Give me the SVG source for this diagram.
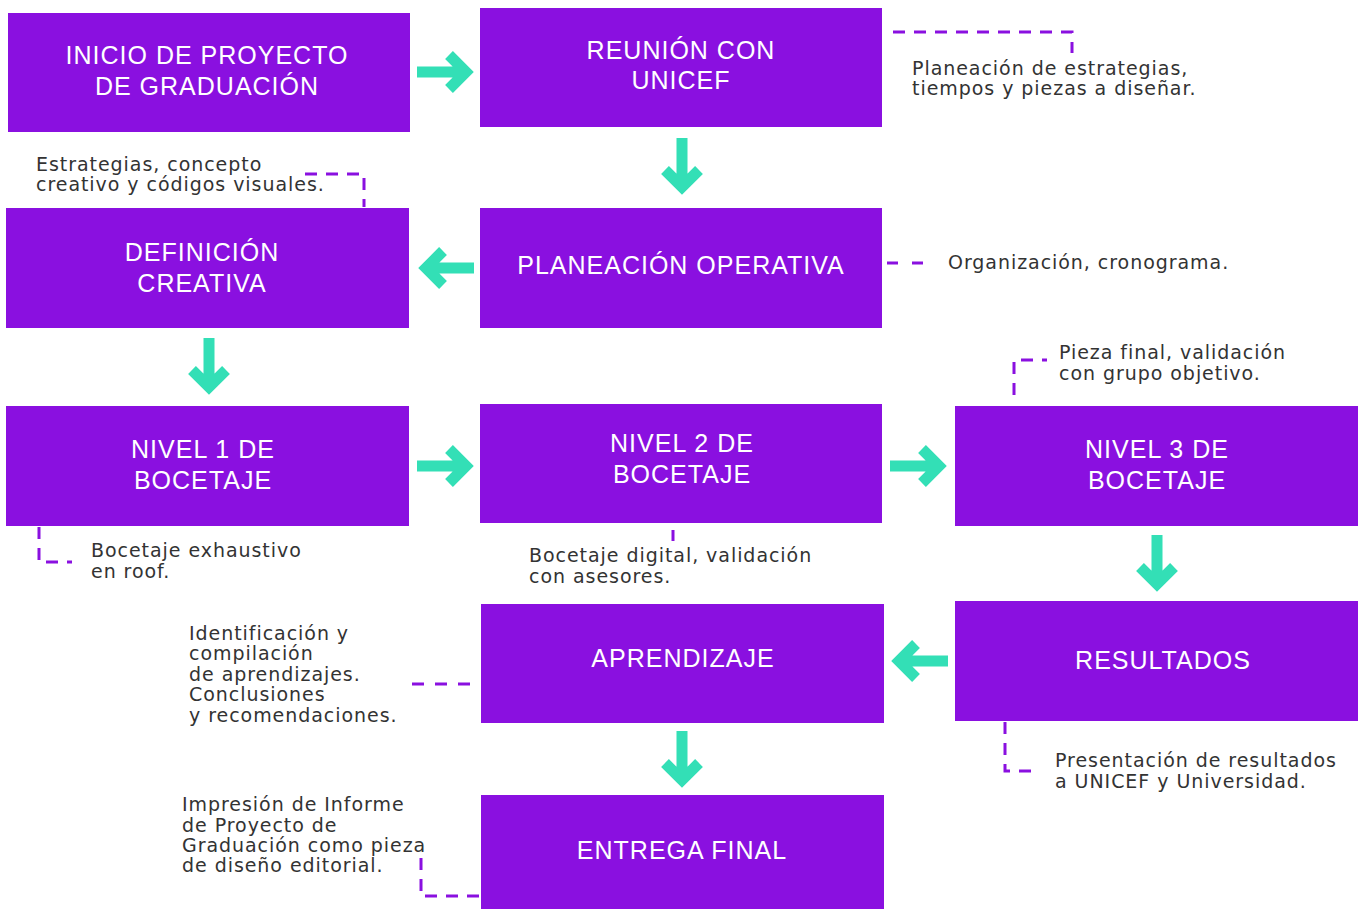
<svg xmlns="http://www.w3.org/2000/svg" width="1363" height="909" viewBox="0 0 1363 909">
<style>
.box{fill:#8a10e0}
.bt{fill:#ffffff;font-family:"Liberation Sans",Arial,sans-serif;font-size:25px;letter-spacing:1px;text-anchor:middle}
.at{fill:#333333;font-family:"DejaVu Sans","Liberation Sans",sans-serif;font-size:19px;letter-spacing:0.95px}
.arr{fill:none;stroke:#33dfb6;stroke-width:11;stroke-linejoin:miter;stroke-miterlimit:10}
.dash{fill:none;stroke:#8a10e0;stroke-width:3;stroke-dasharray:12 9}
</style>
<rect width="1363" height="909" fill="#ffffff"/>
<g id="n1"><rect class="box" x="8" y="13" width="402" height="119"/><text class="bt" x="207" y="64">INICIO DE PROYECTO</text><text class="bt" x="207" y="95">DE GRADUACIÓN</text></g>
<g id="n2"><rect class="box" x="480" y="8" width="402" height="119"/><text class="bt" x="681" y="59">REUNIÓN CON</text><text class="bt" x="681" y="89">UNICEF</text></g>
<g id="n3"><rect class="box" x="6" y="208" width="403" height="120"/><text class="bt" x="202" y="261">DEFINICIÓN</text><text class="bt" x="202" y="292">CREATIVA</text></g>
<g id="n4"><rect class="box" x="480" y="208" width="402" height="120"/><text class="bt" x="681" y="274">PLANEACIÓN OPERATIVA</text></g>
<g id="n5"><rect class="box" x="6" y="406" width="403" height="120"/><text class="bt" x="203" y="458">NIVEL 1 DE</text><text class="bt" x="203" y="489">BOCETAJE</text></g>
<g id="n6"><rect class="box" x="480" y="404" width="402" height="119"/><text class="bt" x="682" y="452">NIVEL 2 DE</text><text class="bt" x="682" y="483">BOCETAJE</text></g>
<g id="n7"><rect class="box" x="955" y="406" width="403" height="120"/><text class="bt" x="1157" y="458">NIVEL 3 DE</text><text class="bt" x="1157" y="489">BOCETAJE</text></g>
<g id="n8"><rect class="box" x="955" y="601" width="403" height="120"/><text class="bt" x="1163" y="669">RESULTADOS</text></g>
<g id="n9"><rect class="box" x="481" y="604" width="403" height="119"/><text class="bt" x="683" y="667">APRENDIZAJE</text></g>
<g id="n10"><rect class="box" x="481" y="795" width="403" height="114"/><text class="bt" x="682" y="859">ENTREGA FINAL</text></g>
<g id="notes">
<text class="at" x="912" y="75">Planeación de estrategias,</text>
<text class="at" x="912" y="95">tiempos y piezas a diseñar.</text>
<text class="at" x="36" y="171">Estrategias, concepto</text>
<text class="at" x="36" y="191">creativo y códigos visuales.</text>
<text class="at" x="948" y="269">Organización, cronograma.</text>
<text class="at" x="1059" y="359">Pieza final, validación</text>
<text class="at" x="1059" y="380">con grupo objetivo.</text>
<text class="at" x="91" y="557">Bocetaje exhaustivo</text>
<text class="at" x="91" y="578">en roof.</text>
<text class="at" x="529" y="562">Bocetaje digital, validación</text>
<text class="at" x="529" y="583">con asesores.</text>
<text class="at" x="189" y="640">Identificación y</text>
<text class="at" x="189" y="660">compilación</text>
<text class="at" x="189" y="681">de aprendizajes.</text>
<text class="at" x="189" y="701">Conclusiones</text>
<text class="at" x="189" y="722">y recomendaciones.</text>
<text class="at" x="1055" y="767">Presentación de resultados</text>
<text class="at" x="1055" y="788">a UNICEF y Universidad.</text>
<text class="at" x="182" y="811">Impresión de Informe</text>
<text class="at" x="182" y="832">de Proyecto de</text>
<text class="at" x="182" y="852">Graduación como pieza</text>
<text class="at" x="182" y="872">de diseño editorial.</text>
</g>
<g id="connectors">
<path class="arr" d="M417,72H467M449,55L466,72L449,89"/>
<path class="arr" d="M682,138V188M665,170L682,187L699,170"/>
<path class="arr" d="M474,268H425M443,251L426,268L443,285"/>
<path class="arr" d="M209,338V388M192,370L209,387L226,370"/>
<path class="arr" d="M417,466H467M449,449L466,466L449,483"/>
<path class="arr" d="M890,466H940M922,449L939,466L922,483"/>
<path class="arr" d="M1157,535V585M1140,567L1157,584L1174,567"/>
<path class="arr" d="M948,661H898M916,644L899,661L916,678"/>
<path class="arr" d="M682,731V781M665,763L682,780L699,763"/>
<path class="dash" d="M893,32H1072V53"/>
<path class="dash" d="M305,174H364V207"/>
<path class="dash" d="M887,263H925" style="stroke-dasharray:11 14"/>
<path class="dash" d="M39,527V562H72"/>
<path class="dash" d="M673,530V541"/>
<path class="dash" d="M1014,395V360H1047"/>
<path class="dash" d="M412,684H470" style="stroke-dasharray:12 11"/>
<path class="dash" d="M1005,722V771H1038"/>
<path class="dash" d="M421,858V896H481"/>
</g>
</svg>
